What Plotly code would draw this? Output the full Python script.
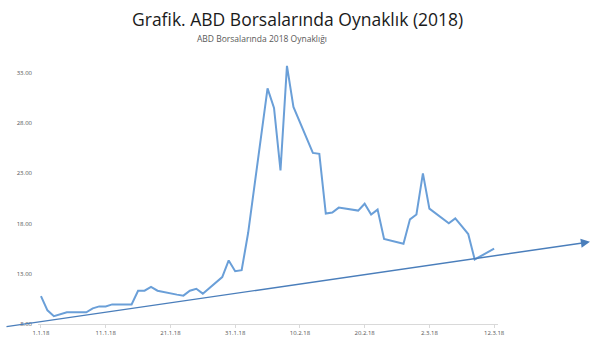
import plotly.graph_objects as go

dates = [
    "2018-01-01", "2018-01-02", "2018-01-03", "2018-01-04", "2018-01-05",
    "2018-01-08", "2018-01-09", "2018-01-10", "2018-01-11", "2018-01-12",
    "2018-01-15", "2018-01-16", "2018-01-17", "2018-01-18", "2018-01-19",
    "2018-01-22", "2018-01-23", "2018-01-24", "2018-01-25", "2018-01-26",
    "2018-01-29", "2018-01-30", "2018-01-31", "2018-02-01", "2018-02-02",
    "2018-02-05", "2018-02-06", "2018-02-07", "2018-02-08", "2018-02-09",
    "2018-02-12", "2018-02-13", "2018-02-14", "2018-02-15", "2018-02-16",
    "2018-02-19", "2018-02-20", "2018-02-21", "2018-02-22", "2018-02-23",
    "2018-02-26", "2018-02-27", "2018-02-28", "2018-03-01", "2018-03-02",
    "2018-03-05", "2018-03-06", "2018-03-07", "2018-03-08", "2018-03-09",
    "2018-03-12",
]
values = [
    10.77, 9.36, 8.78, 8.97, 9.17,
    9.17, 9.56, 9.75, 9.75, 9.95,
    9.95, 11.31, 11.31, 11.70, 11.31,
    10.92, 10.82, 11.31, 11.50, 11.02,
    12.67, 14.32, 13.25, 13.35, 17.05,
    31.44, 29.50, 23.27, 33.68, 29.60,
    25.02, 24.93, 18.99, 19.09, 19.58,
    19.28, 19.96, 18.89, 19.38, 16.46,
    15.98, 18.41, 18.89, 22.98, 19.48,
    18.02, 18.51, 17.73, 16.95, 14.42,
    15.49,
]

x_tick_vals = ["2018-01-01", "2018-01-11", "2018-01-21", "2018-01-31",
               "2018-02-10", "2018-02-20", "2018-03-02", "2018-03-12"]
x_tick_text = ["1.1.18", "11.1.18", "21.1.18", "31.1.18",
               "10.2.18", "20.2.18", "2.3.18", "12.3.18"]
y_tick_vals = [8, 13, 18, 23, 28, 33]

title_text = "Grafik. ABD Borsalarında Oynaklık (2018)"
subtitle_text = "ABD Borsalarında 2018 Oynaklığı"

fig = go.Figure()
fig.add_trace(go.Scatter(
    x=dates, y=values, mode="lines",
    line=dict(color="#6a9fd8", width=2),
    hoverinfo="skip", showlegend=False,
))

fig.update_layout(
    width=600, height=349,
    margin=dict(l=38, r=102, t=60, b=19),
    paper_bgcolor="white", plot_bgcolor="white",
    font=dict(family="Open Sans, Liberation Sans, sans-serif"),
    xaxis=dict(
        type="date",
        range=["2017-12-31 13:00", "2018-03-12 14:24"],
        tickvals=x_tick_vals, ticktext=x_tick_text,
        tickfont=dict(size=6, color="#555555"),
        showgrid=False, zeroline=False,
        showline=True, linecolor="#d9d9d9", linewidth=1,
        ticks="outside", ticklen=3, tickcolor="#d9d9d9",
    ),
    yaxis=dict(
        range=[8, 34.26],
        tickvals=y_tick_vals, tickformat=".2f",
        tickfont=dict(size=6, color="#555555"),
        showgrid=False, zeroline=False, showline=False,
        ticks="", ticklabelstandoff=5,
    ),
    annotations=[
        dict(text=title_text, xref="paper", yref="paper",
             x=(297 - 38) / 460, y=(349 - 18 - 19) / 270,
             showarrow=False, xanchor="center", yanchor="middle",
             font=dict(size=17.5, color="#1a1a1a", family="Open Sans")),
        dict(text=subtitle_text, xref="paper", yref="paper",
             x=(262 - 38) / 460, y=(349 - 38 - 19) / 270,
             showarrow=False, xanchor="center", yanchor="middle",
             font=dict(size=8.5, color="#595959", family="Open Sans")),
        dict(text="", xref="paper", yref="paper",
             x=(590 - 38) / 460, y=(349 - 246 - 19) / 270,
             ax=5 - 590, ay=331 - 246, axref="pixel", ayref="pixel",
             showarrow=True, arrowhead=2, arrowsize=1.3, arrowwidth=1.4,
             arrowcolor="#4a7ebb"),
    ],
)

fig.write_html("out.html")
